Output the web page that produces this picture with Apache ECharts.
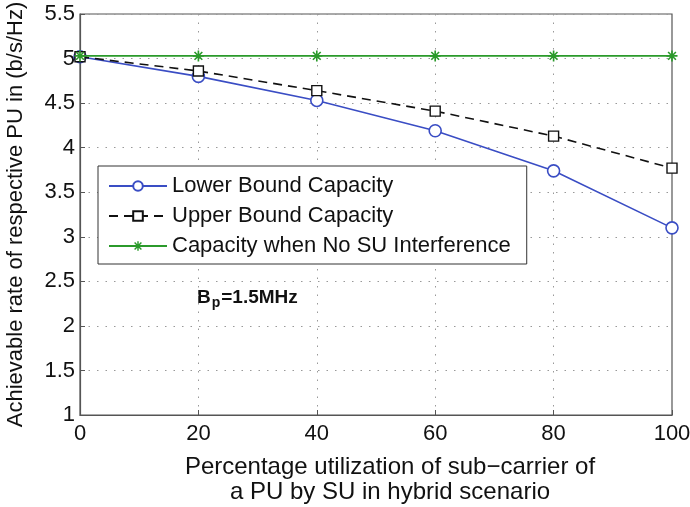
<!DOCTYPE html>
<html><head><meta charset="utf-8">
<script src="https://cdn.jsdelivr.net/npm/echarts@6/dist/echarts.min.js"></script>
<style>html,body{margin:0;padding:0;background:#fff}#c{width:690px;height:507px}</style>
</head><body><div id="c"></div>
<script>
var xValues = [0, 20, 40, 60, 80, 100];
var lowerBound = [5.02, 4.80, 4.53, 4.19, 3.74, 3.10];
var upperBound = [5.02, 4.86, 4.64, 4.41, 4.13, 3.77];
var noInterference = [5.03, 5.03, 5.03, 5.03, 5.03, 5.03];
var seriesNames = ['Lower Bound Capacity', 'Upper Bound Capacity', 'Capacity when No SU Interference'];

function pairs(v){ return xValues.map(function(x,i){ return [x, v[i]]; }); }
var asterisk = 'path://M-0.15,-1L0.15,-1L0.15,1L-0.15,1Z M-1,-0.15L1,-0.15L1,0.15L-1,0.15Z M0.601,0.813L-0.813,-0.601L-0.601,-0.813L0.813,0.601Z M0.813,-0.601L-0.601,0.813L-0.813,0.601L0.601,-0.813Z';
var font = 'Liberation Sans, Arial, sans-serif';
var chart = echarts.init(document.getElementById('c'));
chart.setOption({
  animation: false,
  textStyle: {fontFamily: font},
  grid: {left: 80, right: 18, top: 14, bottom: 92, show: true, borderColor: '#555', borderWidth: 1.2,
    containLabel: false, outerBoundsMode: 'none'},
  xAxis: {type: 'value', min: 0, max: 100, interval: 20,
    axisLine: {lineStyle: {color: '#555', width: 1.2}},
    axisTick: {inside: true, length: 5, lineStyle: {color: '#555'}},
    axisLabel: {color: '#111', fontSize: 22, margin: 8},
    splitLine: {show: true, lineStyle: {color: '#999', type: [1.5, 7], width: 1}}},
  yAxis: {type: 'value', min: 1, max: 5.5, interval: 0.5,
    name: 'Achievable rate of respective PU in (b/s/Hz)', nameLocation: 'middle', nameGap: 53,
    nameTextStyle: {color: '#111', fontSize: 22, fontFamily: font},
    axisLine: {show: true, lineStyle: {color: '#555', width: 1.2}},
    axisTick: {show: true, inside: true, length: 5, lineStyle: {color: '#555'}},
    axisLabel: {color: '#111', fontSize: 22, margin: 5},
    splitLine: {show: true, lineStyle: {color: '#999', type: [1.5, 7], width: 1}}},
  legend: {orient: 'vertical', left: 98, top: 166, backgroundColor: '#fff',
    borderColor: '#333', borderWidth: 1, padding: [9, 16, 7, 10],
    itemWidth: 58, itemHeight: 12, itemGap: 8,
    textStyle: {fontSize: 22, lineHeight: 22, color: '#111', fontFamily: font},
    data: seriesNames},
  series: [
    {name: seriesNames[0], type: 'line', data: pairs(lowerBound), symbol: 'circle', symbolSize: 12,
      lineStyle: {color: '#3a4dc4', width: 1.6}, itemStyle: {color: '#fff', borderColor: '#3a4dc4', borderWidth: 1.6}, z: 3},
    {name: seriesNames[1], type: 'line', data: pairs(upperBound), symbol: 'rect', symbolSize: 10,
      lineStyle: {color: '#111', width: 1.6, type: [9, 6]}, itemStyle: {color: '#fff', borderColor: '#111', borderWidth: 1.4}, z: 4},
    {name: seriesNames[2], type: 'line', data: pairs(noInterference), symbol: asterisk, symbolSize: 11,
      lineStyle: {color: '#2b9a2b', width: 1.6}, itemStyle: {color: '#2b9a2b', borderWidth: 0}, z: 5}
  ],
  graphic: [
    {type: 'text', left: 197, top: 288, style: {
      text: '{b|B}{s|p}{b|=1.5MHz}',
      rich: {b: {fontSize: 19, fontWeight: 'bold', fill: '#111', fontFamily: font, lineHeight: 22, verticalAlign: 'top'},
             s: {fontSize: 14, fontWeight: 'bold', fill: '#111', fontFamily: font, lineHeight: 16, padding: [0, 1, 0, 1], verticalAlign: 'bottom'}}}},
    {type: 'text', x: 390, y: 455, style: {
      text: 'Percentage utilization of sub\u2212carrier of\na PU by SU in hybrid scenario',
      fill: '#111', fontSize: 24, fontFamily: font, align: 'center', verticalAlign: 'top', lineHeight: 25}}
  ]
});
</script></body></html>
